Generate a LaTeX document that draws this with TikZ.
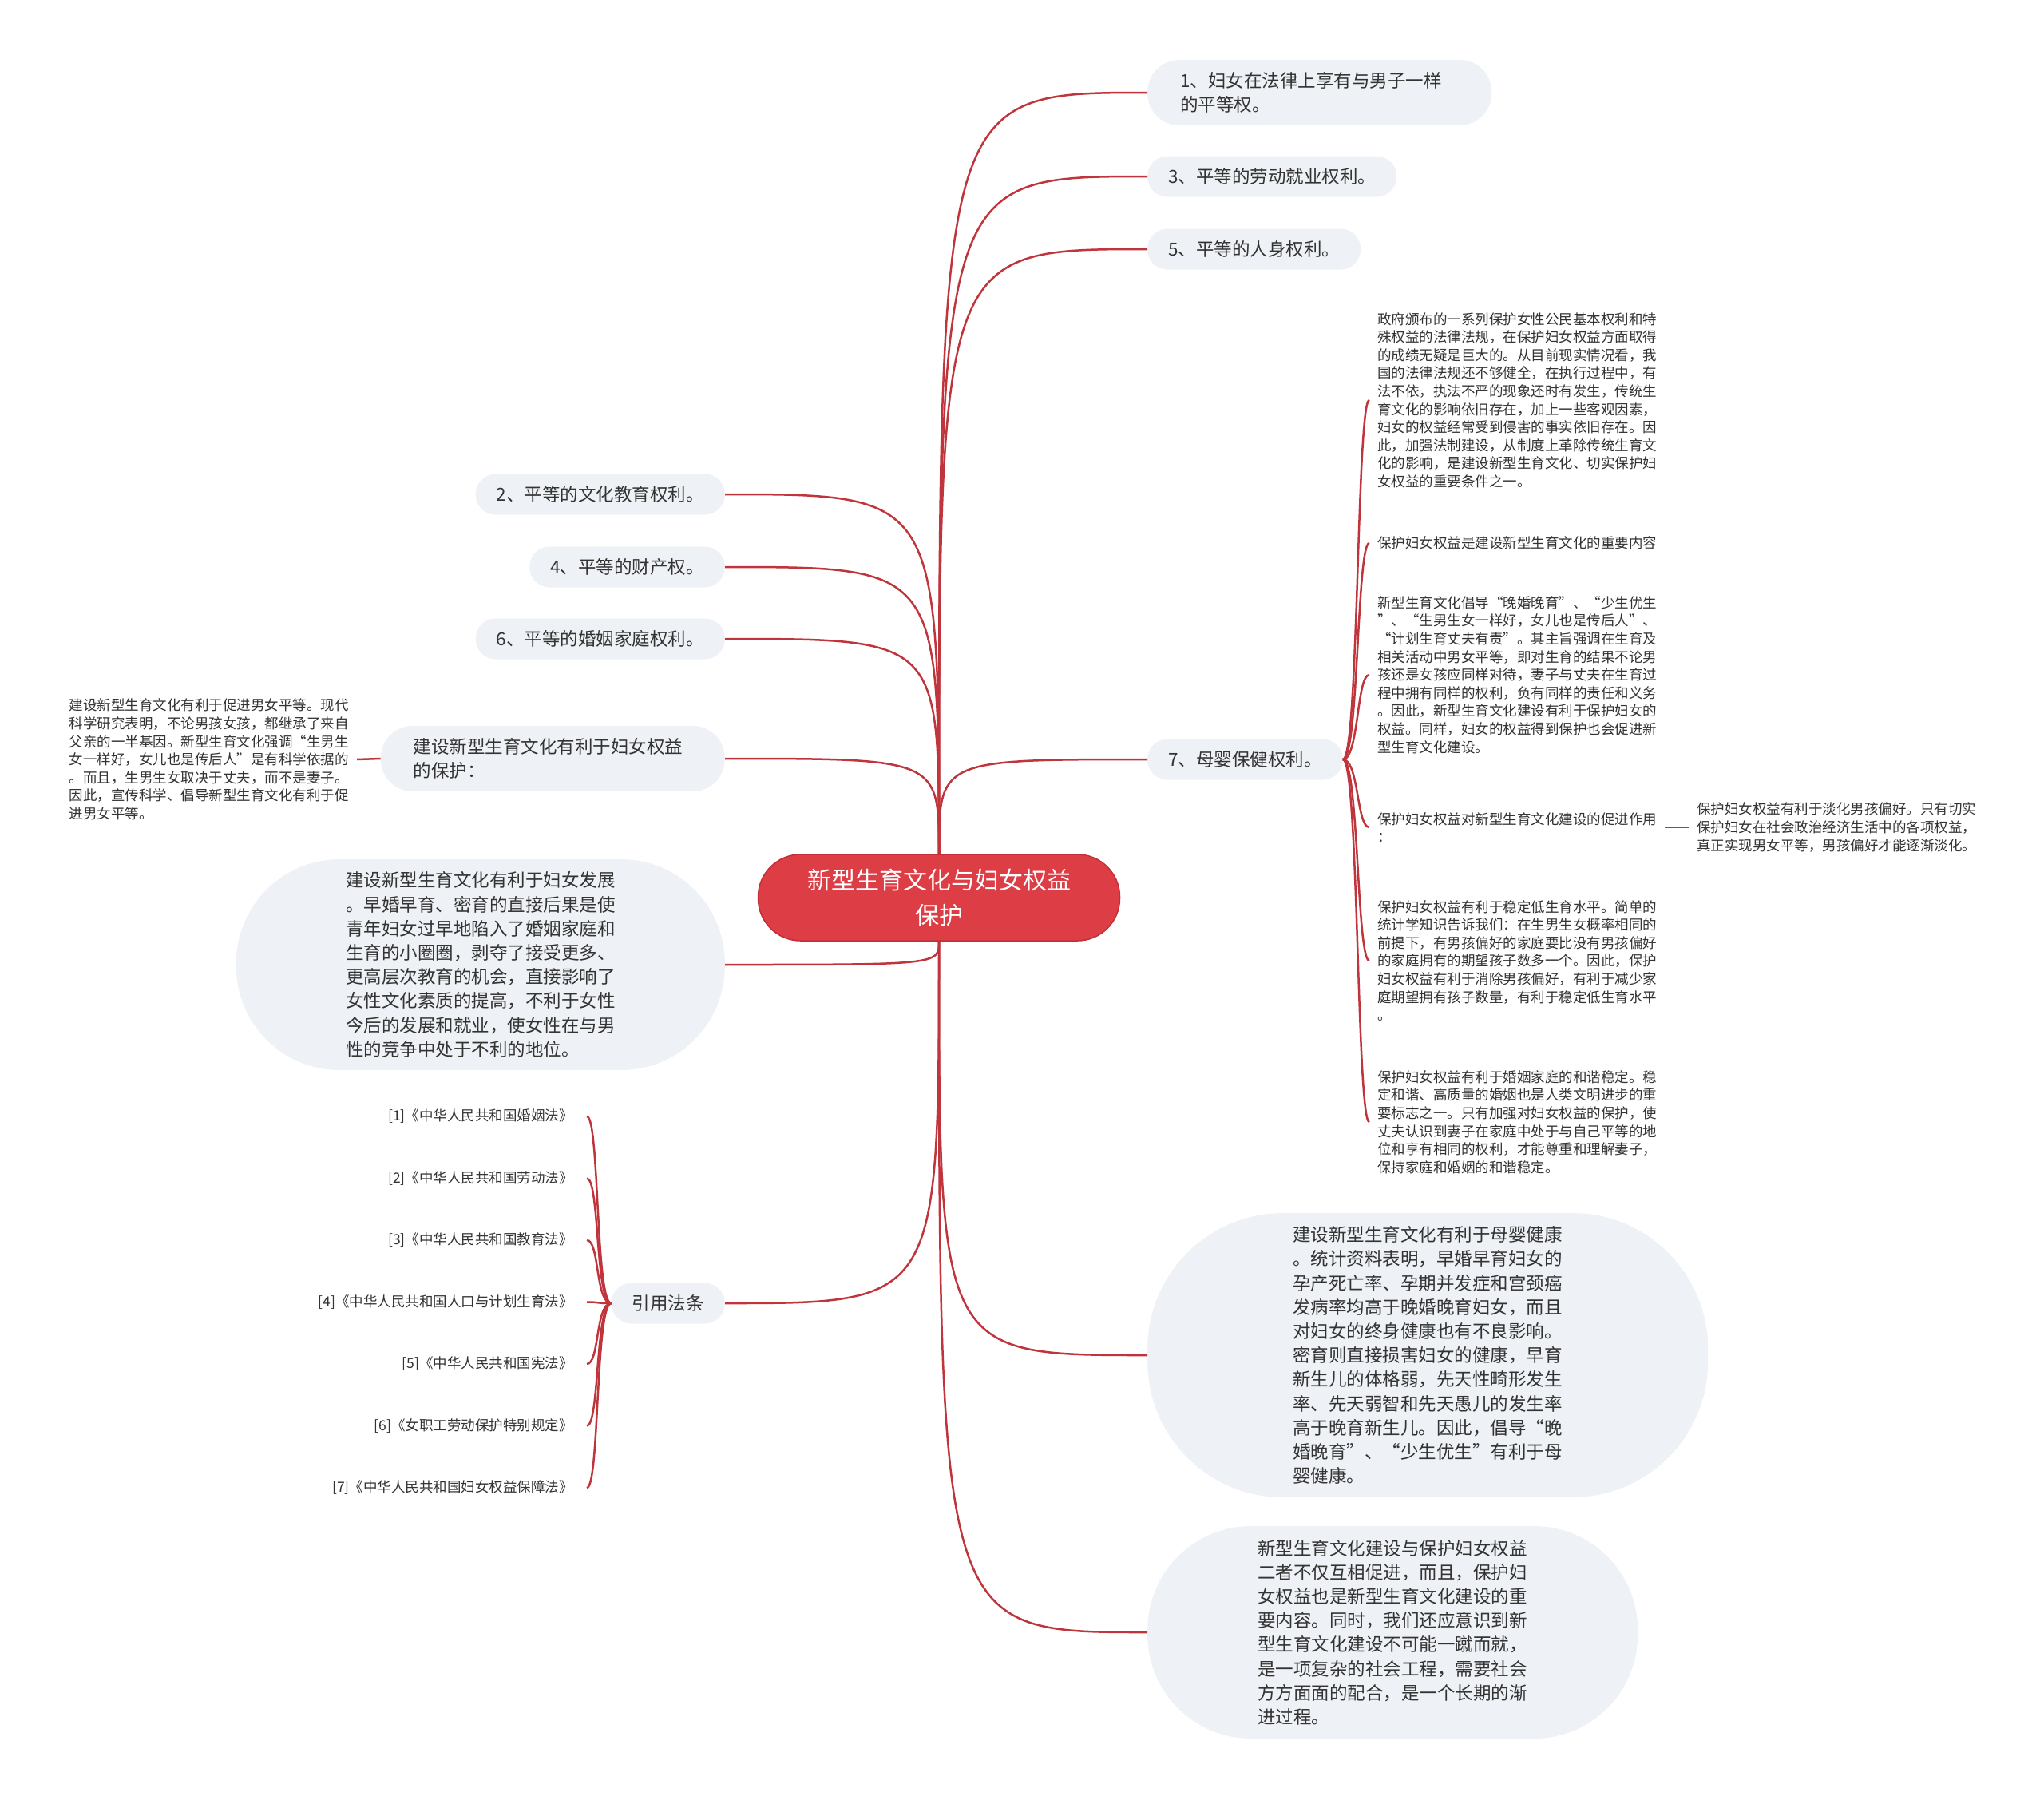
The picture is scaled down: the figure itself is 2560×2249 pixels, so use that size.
\documentclass[tikz,border=0pt]{standalone}
\usepackage{fontspec}
\setmainfont{Noto Sans CJK SC}
\definecolor{rootred}{RGB}{221,61,69}
\definecolor{rootedge}{RGB}{196,46,54}
\definecolor{linkred}{RGB}{192,52,60}
\definecolor{bubblegray}{RGB}{238,241,245}
\definecolor{inkgray}{RGB}{51,51,51}

\begin{document}
\begin{tikzpicture}[x=1pt,y=-1pt,
	root/.style={fill=rootred,draw=rootedge,line width=1.5pt,rounded corners=53pt,
		minimum width=453pt,minimum height=108pt,text=white,align=center,
		font=\fontsize{30}{44}\selectfont},
	topic/.style={fill=bubblegray,rounded corners=25pt,minimum height=51pt,
		inner xsep=26pt,inner ysep=0pt,text=inkgray,align=left,
		font=\fontsize{22.5}{29.5}\selectfont},
	topictwo/.style={topic,text width=349pt,inner xsep=41pt,minimum height=82pt,rounded corners=40pt},
	bigtopic/.style={fill=bubblegray,inner sep=0pt,text=inkgray,align=left,
		font=\fontsize{22.5}{30.2}\selectfont},
	note/.style={inner xsep=10pt,inner ysep=0pt,text=inkgray,align=left,
		font=\fontsize{17.5}{22.6}\selectfont},
	lawitem/.style={note,inner xsep=17pt},
	link/.style={draw=linkred,line width=2.5pt}]

	\fill[white] (0,0) rectangle (2560,2249);
	\useasboundingbox (0,0) rectangle (2560,2249);

	% Центральный узел
	\node[root] (root) at (1176,1124) {新型生育文化与妇女权益\\保护};

	% Правая колонка
	\node[topictwo,anchor=west] (r1) at (1437,116) {1、妇女在法律上享有与男子一样\\的平等权。};
	\node[topic,anchor=west] (r3) at (1437,221) {3、平等的劳动就业权利。};
	\node[topic,anchor=west] (r5) at (1437,312) {5、平等的人身权利。};
	\node[topic,anchor=west] (r7) at (1437,951) {7、母婴保健权利。};
	\node[bigtopic,anchor=west,minimum width=702pt,minimum height=356pt,rounded corners=170pt] (rb1) at (1437,1697)
		{建设新型生育文化有利于母婴健康\\。统计资料表明，早婚早育妇女的\\孕产死亡率、孕期并发症和宫颈癌\\发病率均高于晚婚晚育妇女，而且\\对妇女的终身健康也有不良影响。\\密育则直接损害妇女的健康，早育\\新生儿的体格弱，先天性畸形发生\\率、先天弱智和先天愚儿的发生率\\高于晚育新生儿。因此，倡导“晚\\婚晚育”、“少生优生”有利于母\\婴健康。};
	\node[bigtopic,anchor=west,minimum width=614pt,minimum height=266pt,rounded corners=130pt] (rb2) at (1437,2044)
		{新型生育文化建设与保护妇女权益\\二者不仅互相促进，而且，保护妇\\女权益也是新型生育文化建设的重\\要内容。同时，我们还应意识到新\\型生育文化建设不可能一蹴而就，\\是一项复杂的社会工程，需要社会\\方方面面的配合，是一个长期的渐\\进过程。};

	% Левая колонка
	\node[topic,anchor=east] (l2) at (908,619) {2、平等的文化教育权利。};
	\node[topic,anchor=east] (l4) at (908,710) {4、平等的财产权。};
	\node[topic,anchor=east] (l6) at (908,800) {6、平等的婚姻家庭权利。};
	\node[topictwo,anchor=east] (lp) at (908,950) {建设新型生育文化有利于妇女权益\\的保护：};
	\node[bigtopic,anchor=east,minimum width=612pt,minimum height=264pt,rounded corners=130pt] (lb) at (908,1208)
		{建设新型生育文化有利于妇女发展\\。早婚早育、密育的直接后果是使\\青年妇女过早地陷入了婚姻家庭和\\生育的小圈圈，剥夺了接受更多、\\更高层次教育的机会，直接影响了\\女性文化素质的提高，不利于女性\\今后的发展和就业，使女性在与男\\性的竞争中处于不利的地位。};
	\node[topic,anchor=east] (law) at (908,1632) {引用法条};

	% Пояснение слева
	\node[note,anchor=east] (lpd) at (447,951)
		{建设新型生育文化有利于促进男女平等。现代\\科学研究表明，不论男孩女孩，都继承了来自\\父亲的一半基因。新型生育文化强调“生男生\\女一样好，女儿也是传后人”是有科学依据的\\。而且，生男生女取决于丈夫，而不是妻子。\\因此，宣传科学、倡导新型生育文化有利于促\\进男女平等。};

	% Пояснения справа
	\node[note,anchor=west] (n1) at (1715,501)
		{政府颁布的一系列保护女性公民基本权利和特\\殊权益的法律法规，在保护妇女权益方面取得\\的成绩无疑是巨大的。从目前现实情况看，我\\国的法律法规还不够健全，在执行过程中，有\\法不依，执法不严的现象还时有发生，传统生\\育文化的影响依旧存在，加上一些客观因素，\\妇女的权益经常受到侵害的事实依旧存在。因\\此，加强法制建设，从制度上革除传统生育文\\化的影响，是建设新型生育文化、切实保护妇\\女权益的重要条件之一。};
	\node[note,anchor=west] (n2) at (1715,680) {保护妇女权益是建设新型生育文化的重要内容};
	\node[note,anchor=west] (n3) at (1715,845)
		{新型生育文化倡导“晚婚晚育”、“少生优生\\”、“生男生女一样好，女儿也是传后人”、\\“计划生育丈夫有责”。其主旨强调在生育及\\相关活动中男女平等，即对生育的结果不论男\\孩还是女孩应同样对待，妻子与丈夫在生育过\\程中拥有同样的权利，负有同样的责任和义务\\。因此，新型生育文化建设有利于保护妇女的\\权益。同样，妇女的权益得到保护也会促进新\\型生育文化建设。};
	\node[note,anchor=west] (n4) at (1715,1036) {保护妇女权益对新型生育文化建设的促进作用\\：};
	\node[note,anchor=west] (n4r) at (2115,1036)
		{保护妇女权益有利于淡化男孩偏好。只有切实\\保护妇女在社会政治经济生活中的各项权益，\\真正实现男女平等，男孩偏好才能逐渐淡化。};
	\node[note,anchor=west] (n5) at (1715,1203)
		{保护妇女权益有利于稳定低生育水平。简单的\\统计学知识告诉我们：在生男生女概率相同的\\前提下，有男孩偏好的家庭要比没有男孩偏好\\的家庭拥有的期望孩子数多一个。因此，保护\\妇女权益有利于消除男孩偏好，有利于减少家\\庭期望拥有孩子数量，有利于稳定低生育水平\\。};
	\node[note,anchor=west] (n6) at (1715,1405)
		{保护妇女权益有利于婚姻家庭的和谐稳定。稳\\定和谐、高质量的婚姻也是人类文明进步的重\\要标志之一。只有加强对妇女权益的保护，使\\丈夫认识到妻子在家庭中处于与自己平等的地\\位和享有相同的权利，才能尊重和理解妻子，\\保持家庭和婚姻的和谐稳定。};

	% Законы
	\foreach \i/\y/\txt in {1/1398/{[1]《中华人民共和国婚姻法》},2/1475.5/{[2]《中华人民共和国劳动法》},
		3/1553/{[3]《中华人民共和国教育法》},4/1630.5/{[4]《中华人民共和国人口与计划生育法》},
		5/1708/{[5]《中华人民共和国宪法》},6/1785.5/{[6]《女职工劳动保护特别规定》},
		7/1863/{[7]《中华人民共和国妇女权益保障法》}}
		\node[lawitem,anchor=east] (law\i) at (735,\y) {\txt};

	% Связи от центра
	\foreach \c in {r1,r3,r5,r7}
		\draw[link] (root.north) .. controls (root.north |- \c.west) .. (\c.west);
	\foreach \c in {l2,l4,l6,lp}
		\draw[link] (root.north) .. controls (root.north |- \c.east) .. (\c.east);
	\foreach \c in {rb1,rb2}
		\draw[link] (root.south) .. controls (root.south |- \c.west) .. (\c.west);
	\foreach \c in {lb,law}
		\draw[link] (root.south) .. controls (root.south |- \c.east) .. (\c.east);

	% Связи второго уровня
	\foreach \c in {n1,n2,n3,n4,n5,n6}
		\draw[link] (r7.east) .. controls +(20,0) and +(-16,0) .. (\c.west);
	\foreach \i in {1,...,7}
		\draw[link] (law.west) .. controls +(-20,0) and +(16,0) .. (law\i.east);
	\draw[link] (lp.west) -- (lpd.east);
	\draw[link] (n4.east) -- (n4r.west);
\end{tikzpicture}
\end{document}
